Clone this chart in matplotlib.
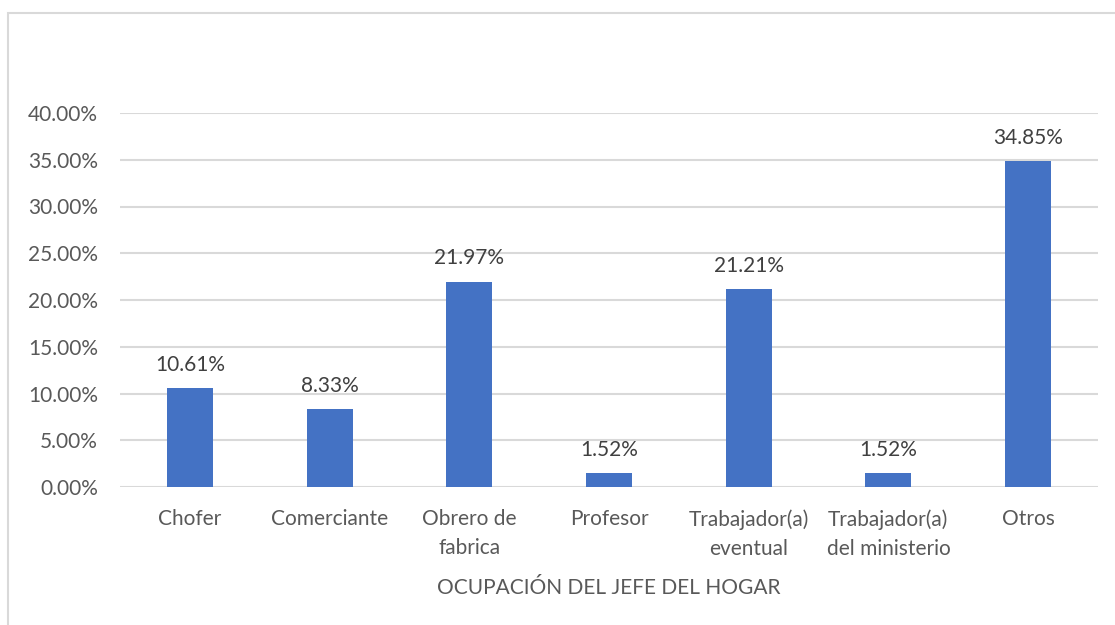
import matplotlib.pyplot as plt
from matplotlib.patches import Rectangle
from matplotlib.ticker import FuncFormatter

categories = ["Chofer", "Comerciante", "Obrero de\nfabrica", "Profesor",
              "Trabajador(a)\neventual", "Trabajador(a)\ndel ministerio", "Otros"]
values = [10.61, 8.33, 21.97, 1.52, 21.21, 1.52, 34.85]
yticks = [0, 5, 10, 15, 20, 25, 30, 35, 40]

plt.rcParams["font.family"] = ["Lato", "DejaVu Sans"]
text_color = "#595959"
grid_color = "#d9d9d9"
fs = 15

fig = plt.figure(figsize=(11.15, 6.25), dpi=100)
fig.patches.append(Rectangle((8 / 1115, -0.05), 1.2, 1 - 13 / 625 + 0.05,
                             transform=fig.transFigure, fill=False,
                             edgecolor=grid_color, linewidth=1.5))

ax = fig.add_axes([120 / 1115, 1 - 487 / 625, 978 / 1115, 374 / 625])
x = range(len(categories))
bars = ax.bar(x, values, width=0.33, color="#4472C4", zorder=3)

for b, v in zip(bars, values):
    ax.text(b.get_x() + b.get_width() / 2, v + 1.4, f"{v:.2f}%",
            ha="center", va="bottom", fontsize=fs, color="#404040")

ax.set_xlim(-0.5, len(categories) - 0.5)
ax.set_ylim(0, 40)
ax.set_yticks(yticks)
ax.yaxis.set_major_formatter(FuncFormatter(lambda v, p: f"{v:.2f}%"))
ax.set_xticks(list(x))
ax.set_xticklabels(categories, linespacing=1.55)
ax.tick_params(axis="both", length=0, labelsize=fs, labelcolor=text_color)
ax.tick_params(axis="y", pad=16)
ax.tick_params(axis="x", pad=16)
ax.grid(axis="y", color=grid_color, linewidth=1.5, zorder=0)
for s in ax.spines.values():
    s.set_visible(False)

ax.set_xlabel("OCUPACIÓN DEL JEFE DEL HOGAR", fontsize=fs, color=text_color, labelpad=14)

plt.savefig("out.png", dpi=100)
